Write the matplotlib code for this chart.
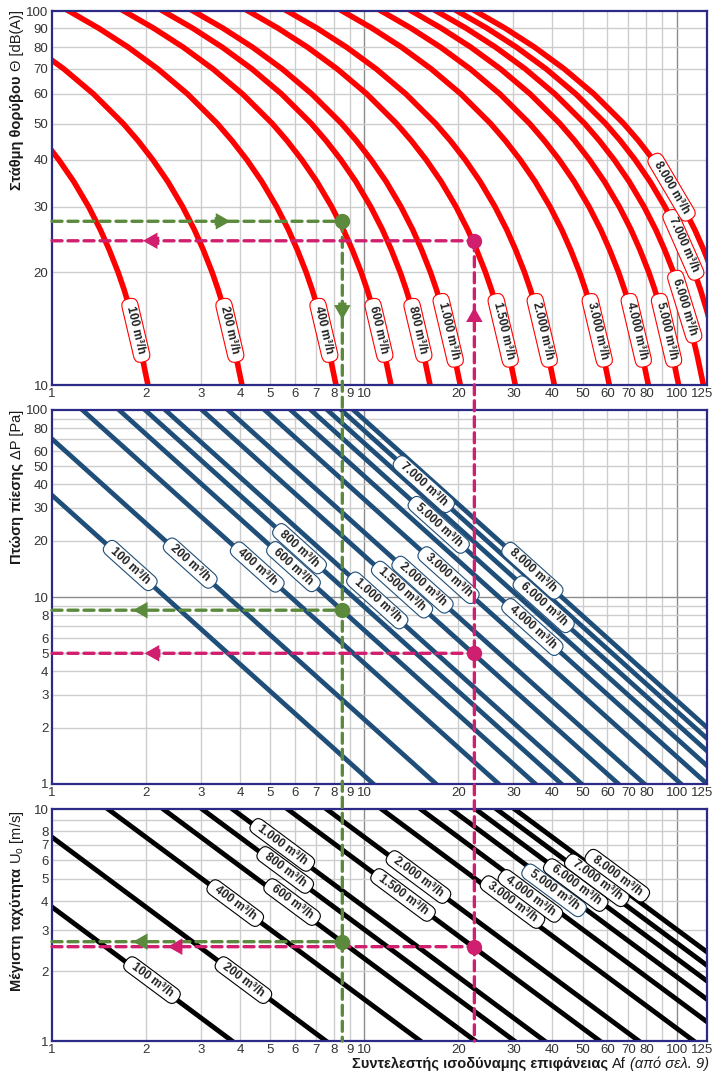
import numpy as np
import matplotlib.pyplot as plt
from matplotlib.lines import Line2D
from matplotlib.patches import BoxStyle, ConnectionPatch, FancyArrowPatch
from matplotlib.transforms import ScaledTranslation

plt.rcParams['font.family'] = ['Liberation Sans', 'DejaVu Sans']

# air flow of every nomogram line, m3/h
flows = [100, 200, 400, 600, 800, 1000, 1500, 2000, 3000, 4000, 5000, 6000, 7000, 8000]
flow_labels = ['100', '200', '400', '600', '800', '1.000', '1.500', '2.000',
               '3.000', '4.000', '5.000', '6.000', '7.000', '8.000']

# noise level against flow per unit of Af (Q / Af), same for every flow curve
noise_db = [9, 10, 12, 14, 16, 18, 20, 23, 26, 30, 35, 40, 45, 50, 60, 70, 80, 90, 100]
noise_q_per_af = [48.3, 49.3, 51.6, 53.9, 56.3, 58.8, 61.4, 65.6, 70.0, 76.4, 85.2,
                  95.1, 106.1, 118.3, 147.3, 183.3, 228.0, 283.8, 353.2]

# line end values at Af = 1 and Af = 125
af_ends = [1, 125]
dp_af1 = [35, 70, 140, 210, 280, 350, 525, 700, 1050, 1400, 1750, 2100, 2450, 2800]
dp_af125 = [0.025, 0.050, 0.100, 0.150, 0.200, 0.250, 0.376, 0.501, 0.751, 1.002,
            1.252, 1.503, 1.753, 2.004]
u_af1 = [3.78, 7.56, 15.1, 22.7, 30.2, 37.8, 56.7, 75.6, 113.4, 151.2, 189.0, 226.8,
         264.6, 302.4]
u_af125 = [0.030, 0.060, 0.121, 0.181, 0.242, 0.302, 0.454, 0.605, 0.907, 1.210,
           1.512, 1.814, 2.117, 2.419]

# where the flow tags sit
noise_label_db = [14, 14, 14, 14, 14, 14, 14, 14, 14, 14, 14, 16.2, 23.7, 33.8]
dp_label_af = [1.78, 2.77, 4.54, 5.93, 6.2, 11.0, 13.2, 15.35, 18.6, 34.5, 17.3, 37.5, 15.5, 34.5]
u_label_af = [2.09, 4.1, 3.86, 5.87, 5.58, 5.46, 13.3, 14.9, 29.8, 34.0, 40.5, 47.5, 55.5, 64.5]
u_label_u = [1.83, 1.83, 3.93, 3.97, 5.46, 7.0, 4.26, 5.09, 3.97, 4.22, 4.46, 4.70, 4.93, 5.16]

# two worked examples: Af, noise, pressure drop, velocity
ex_af = [8.5, 22.5]
ex_noise = [27.4, 24.3]
ex_dp = [8.5, 5.0]
ex_u = [2.68, 2.55]
ex_colors = ['#5b8a3c', '#cf1f6e']

W, H = 715, 1073
fig = plt.figure(figsize=(W / 100, H / 100), dpi=100)
fig.patch.set_facecolor('white')


def add_axes_px(left, top, right, bottom):
    return fig.add_axes([left / W, 1 - bottom / H, (right - left) / W, (bottom - top) / H])


ax_noise = add_axes_px(52, 11, 707, 385)
ax_dp = add_axes_px(52, 410, 707, 784)
ax_u = add_axes_px(52, 809, 707, 1041)

x_ticks = [1, 2, 3, 4, 5, 6, 7, 8, 9, 10, 20, 30, 40, 50, 60, 70, 80, 100, 125]
x_grid = [2, 3, 4, 5, 6, 7, 8, 9, 10, 20, 30, 40, 50, 60, 70, 80, 90, 100]


def setup(ax, ylim, y_ticks, y_grid):
    ax.set_xscale('log')
    ax.set_yscale('log')
    ax.set_xlim(1, 125)
    ax.set_ylim(*ylim)
    ax.set_facecolor('none')
    for v in x_grid:
        ax.axvline(v, color='#8c8c8c' if v in (10, 100) else '#cdcdcd', lw=1.0, zorder=0.5)
    for v in y_grid:
        ax.axhline(v, color='#8c8c8c' if v in (10, 100) else '#cdcdcd', lw=1.0, zorder=0.5)
    ax.set_xticks(x_ticks, [str(t) for t in x_ticks])
    ax.set_yticks(y_ticks, [str(t) for t in y_ticks])
    ax.minorticks_off()
    ax.tick_params(length=0, labelsize=9.5, labelcolor='#333333', pad=2.5)
    for s in ax.spines.values():
        s.set_color('#2b2a86')
        s.set_linewidth(1.6)
    # keep the last x label ("125") inside the figure
    last = ax.get_xticklabels()[-1]
    last.set_transform(last.get_transform() + ScaledTranslation(-5 / 100, 0, fig.dpi_scale_trans))


setup(ax_noise, (10, 100), [10, 20, 30, 40, 50, 60, 70, 80, 90, 100],
      [20, 30, 40, 50, 60, 70, 80, 90])
setup(ax_dp, (1, 100), [1, 2, 3, 4, 5, 6, 8, 10, 20, 30, 40, 50, 60, 80, 100],
      [2, 3, 4, 5, 6, 7, 8, 9, 10, 20, 30, 40, 50, 60, 70, 80, 90])
setup(ax_u, (1, 10), [1, 2, 3, 4, 5, 6, 7, 8, 10], [2, 3, 4, 5, 6, 7, 8, 9])

_round = BoxStyle.Round(pad=0.18, rounding_size=0.6)


def pill_box(x0, y0, width, height, mutation_size):
    ext = 0.5 * mutation_size
    return _round(x0 - ext, y0, width + 2 * ext, height, mutation_size)


def angle(ax, p0, p1):
    (x0, y0), (x1, y1) = ax.transData.transform([p0, p1])
    return np.degrees(np.arctan2(y1 - y0, x1 - x0))


def tag(ax, x, y, rot, text, ec):
    ax.text(x, y, text + ' m³/h', rotation=rot, rotation_mode='anchor',
            ha='center', va='center', fontsize=8.6, fontweight='bold', color='#222222',
            zorder=6, bbox=dict(boxstyle=pill_box, fc='white', ec=ec, lw=0.8))


# noise curves
ratio = np.array(noise_q_per_af)
for q, lab, lvl in zip(flows, flow_labels, noise_label_db):
    af = q / ratio
    ax_noise.plot(af, noise_db, color='#ff0000', lw=4.0, zorder=2)
    x = np.exp(np.interp(np.log(lvl), np.log(noise_db), np.log(af)))
    i = int(np.searchsorted(noise_db, lvl))
    rot = angle(ax_noise, (af[i], noise_db[i]), (af[i - 1], noise_db[i - 1]))
    tag(ax_noise, x, lvl, rot, lab, '#ff0000')

# pressure drop lines
for p1, p2, lab, x in zip(dp_af1, dp_af125, flow_labels, dp_label_af):
    ax_dp.plot(af_ends, [p1, p2], color='#1f4e79', lw=3.4, zorder=2)
    y = np.exp(np.interp(np.log(x), np.log(af_ends), np.log([p1, p2])))
    tag(ax_dp, x, y, angle(ax_dp, (1, p1), (125, p2)), lab, '#1f4e79')

# velocity lines
for p1, p2, lab, x, y in zip(u_af1, u_af125, flow_labels, u_label_af, u_label_u):
    ax_u.plot(af_ends, [p1, p2], color='black', lw=3.5, zorder=2)
    ec = '#1f4e79' if lab == '5.000' else 'black'
    tag(ax_u, x, y, angle(ax_u, (1, p1), (125, p2)), lab, ec)


def dashed(axA, pA, axB, pB, color):
    fig.add_artist(ConnectionPatch(pA, pB, coordsA=axA.transData, coordsB=axB.transData,
                                   color=color, lw=2.4, linestyle=(0, (3, 1.8)), zorder=3))


def arrow(ax, tail, tip, color):
    fig.add_artist(FancyArrowPatch(tail, tip, transform=ax.transData,
                                   arrowstyle='simple,head_length=0.75,head_width=0.85,tail_width=0.42',
                                   mutation_scale=14, color=color, lw=0, zorder=4))


def dot(ax, x, y, color):
    fig.add_artist(Line2D([x], [y], transform=ax.transData, marker='o', ms=10,
                          mfc=color, mec=color, ls='none', zorder=5))


for af, n, dp, u, c in zip(ex_af, ex_noise, ex_dp, ex_u, ex_colors):
    dashed(ax_noise, (1, n), ax_noise, (af, n), c)
    dashed(ax_dp, (1, dp), ax_dp, (af, dp), c)
    dashed(ax_u, (1, u), ax_u, (af, u), c)
    dashed(ax_noise, (af, n), ax_u, (af, 1), c)
    dot(ax_noise, af, n, c)
    dot(ax_dp, af, dp, c)
    dot(ax_u, af, u, c)

green, pink = ex_colors
arrow(ax_noise, (3.25, 27.4), (3.8, 27.4), green)
arrow(ax_noise, (8.5, 16.9), (8.5, 14.7), green)
arrow(ax_dp, (2.02, 8.5), (1.78, 8.5), green)
arrow(ax_u, (2.06, 2.68), (1.78, 2.68), green)
arrow(ax_noise, (2.25, 24.3), (1.915, 24.3), pink)
arrow(ax_noise, (22.5, 14.7), (22.5, 16.4), pink)
arrow(ax_dp, (2.27, 5.0), (1.94, 5.0), pink)
arrow(ax_u, (2.67, 2.55), (2.3, 2.55), pink)

# axis titles: bold description followed by regular symbol and unit
renderer = fig.canvas.get_renderer()
txt = '#1a1a1a'
title_size = 10.5


def ylabel(top_px, bold, regular):
    x = 21 / W
    y_top = 1 - top_px / H
    t = fig.text(x, y_top, regular, rotation=90, rotation_mode='anchor', ha='right',
                 va='baseline', fontsize=title_size, color=txt)
    h = t.get_window_extent(renderer).height
    fig.text(x, y_top - (h + 4) / H, bold, rotation=90, rotation_mode='anchor', ha='right',
             va='baseline', fontsize=title_size, fontweight='bold', color=txt)


ylabel(10, 'Στάθμη θορύβου', 'Θ [dB(A)]')
ylabel(410, 'Πτώση πίεσης', 'ΔP [Pa]')
ylabel(810, 'Μέγιστη ταχύτητα', r'U$_\mathregular{o}$ [m/s]')

yb = 1 - 1068 / H
t3 = fig.text(709 / W, yb, '(από σελ. 9)', ha='right', va='baseline', fontsize=title_size,
              style='italic', color=txt)
w3 = t3.get_window_extent(renderer).width
t2 = fig.text((709 - w3 - 4) / W, yb, 'Af', ha='right', va='baseline', fontsize=title_size,
              color=txt)
w2 = t2.get_window_extent(renderer).width
fig.text((709 - w3 - w2 - 8) / W, yb, 'Συντελεστής ισοδύναμης επιφάνειας', ha='right',
         va='baseline', fontsize=title_size, fontweight='bold', color=txt)

fig.savefig('out.png', dpi=100)
